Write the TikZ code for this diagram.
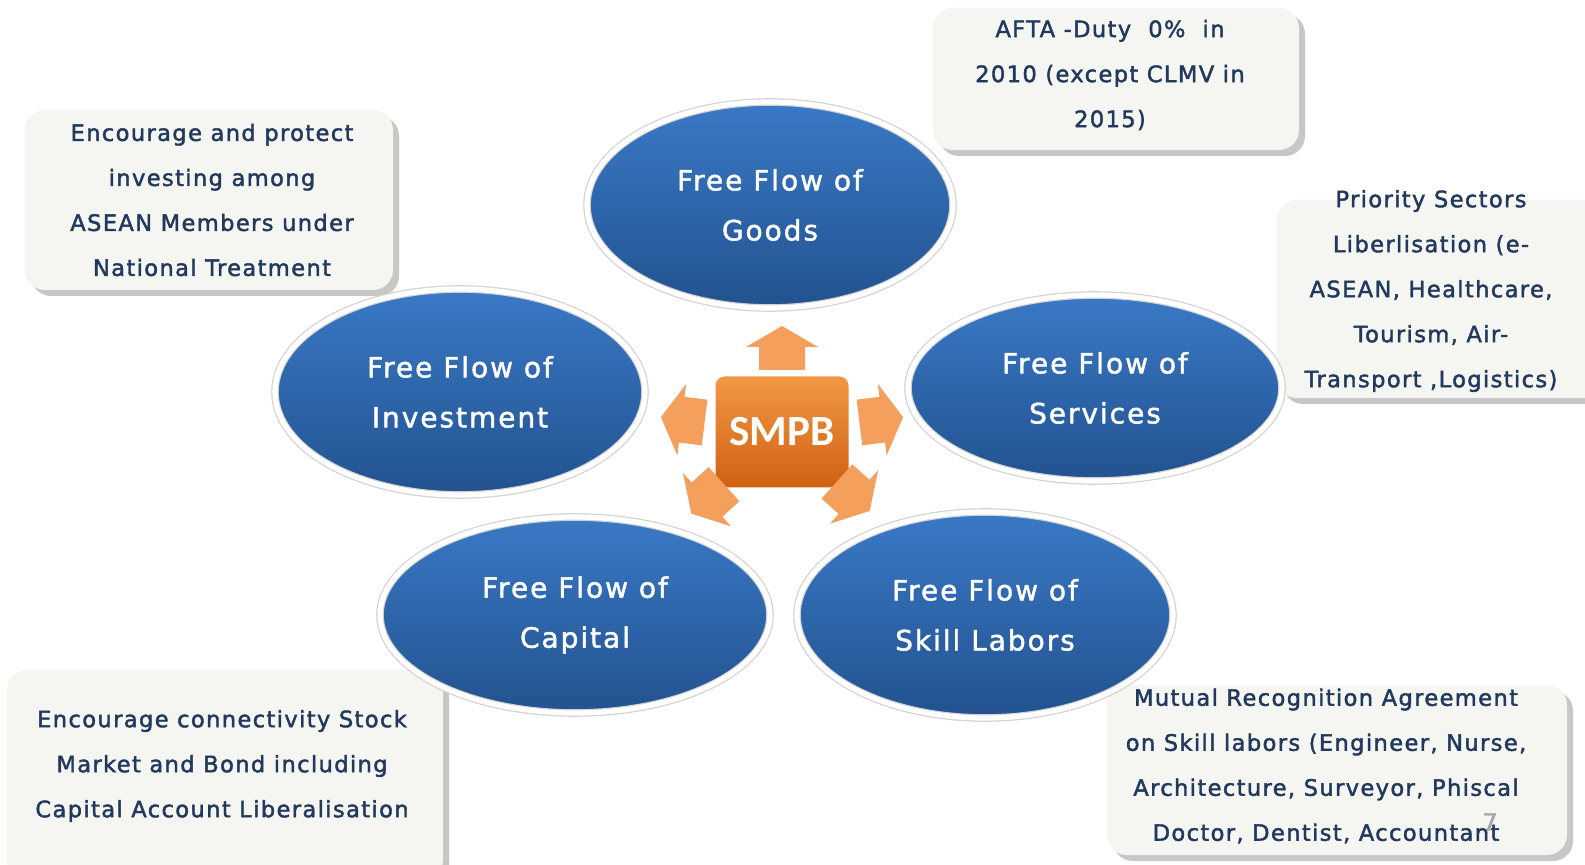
\documentclass[tikz,border=0pt]{standalone}
\usepackage{fontspec}
\usepackage{tikz}
\usetikzlibrary{
        positioning,
        shapes.geometric,
        shadows
    }
\newfontfamily\flowfont[LetterSpace=7,FakeBold=1.6]{DejaVu Sans}
\newfontfamily\notefont[LetterSpace=6,FakeBold=1.8]{DejaVu Sans}
\newfontfamily\hubfont{Carlito}
\definecolor{flowtop}{HTML}{3A79C6}
\definecolor{flowbot}{HTML}{22528F}
\definecolor{notefill}{HTML}{F5F5F2}
\definecolor{notetxt}{HTML}{22395E}
\definecolor{hubtop}{HTML}{F39A45}
\definecolor{hubbot}{HTML}{CF5F10}
\definecolor{hubarrow}{HTML}{F4A05C}
\tikzset{
    flow/.style={ellipse, draw=gray!35, line width=0.6pt, double=white,
        double distance=2.6pt, top color=flowtop, bottom color=flowbot,
        text=white, align=center, inner sep=0pt,
        font=\flowfont\fontsize{14}{25}\selectfont},
    note/.style={rounded corners=10pt, fill=notefill, inner sep=0pt,
        drop shadow={shadow xshift=3pt, shadow yshift=-3pt, fill=gray!80, opacity=0.55}},
    notetext/.style={text=notetxt, align=center, inner sep=0pt,
        font=\notefont\fontsize{11.3}{22.5}\selectfont},
    hub/.style={rounded corners=6pt, draw=white, line width=3.5pt,
        top color=hubtop, bottom color=hubbot, text=white,
        minimum width=70pt, minimum height=59pt,
        font=\hubfont\bfseries\fontsize{21.5}{24}\selectfont,
        drop shadow={shadow xshift=0pt, shadow yshift=-1pt, fill=gray!60, opacity=0.5}},
    hubarrow/.style={fill=hubarrow}
}

\begin{document}
\begin{tikzpicture}[x=0.5pt,y=-0.5pt]
    \clip (0,0) rectangle (1585,865);
    \fill[white] (0,0) rectangle (1585,865);

    % notes behind the flows
    \node[note, minimum width=184pt, minimum height=90pt] (invnote) at (209,200) {};
    \node[note, minimum width=183pt, minimum height=71pt] (goodsnote) at (1116,79) {};
    \node[note, minimum width=163pt, minimum height=99pt] (servnote) at (1440,299) {};
    \node[note, minimum width=218pt, minimum height=105pt] (capnote) at (225,775) {};
    \node[note, minimum width=230pt, minimum height=85pt] (skillnote) at (1337,770) {};

    \node[notetext] (invtext) at (212,200)
        {Encourage and protect\\investing among\\ASEAN Members under\\National Treatment};
    \node[notetext] (goodstext) at (1110,75)
        {AFTA -Duty\ \ 0\%\ \ in\\2010 (except CLMV in\\2015)};
    \node[notetext] (servtext) at (1431,291)
        {Priority Sectors\\Liberlisation (e-\\ASEAN, Healthcare,\\Tourism, Air-\\Transport ,Logistics)};
    \node[notetext] (captext) at (222,766)
        {Encourage connectivity Stock\\Market and Bond including\\Capital Account Liberalisation};
    \node[notetext] (skilltext) at (1326,766)
        {Mutual Recognition Agreement\\on Skill labors (Engineer, Nurse,\\Architecture, Surveyor, Phiscal\\Doctor, Dentist, Accountant};

    % the five flows
    \node[flow, minimum width=183pt, minimum height=103pt] (goods) at (770,205) {Free Flow of\\Goods};
    \node[flow, minimum width=185pt, minimum height=103pt] (invest) at (460,392) {Free Flow of\\Investment};
    \node[flow, minimum width=187pt, minimum height=93pt] (serv) at (1095,388) {Free Flow of\\Services};
    \node[flow, minimum width=195pt, minimum height=98pt] (capital) at (575,615) {Free Flow of\\Capital};
    \node[flow, minimum width=188pt, minimum height=103pt] (skill) at (985,615) {Free Flow of\\Skill Labors};

    % hub and its arrows
    \node[hub] (smpb) at (782,432) {SMPB};
    \foreach \ang/\dist in {90/42, 7/50, 173/50, 222/50, 318/48}
        \fill[hubarrow, shift={(smpb.center)}, rotate=\ang, xshift=\dist pt]
            (-11pt,-11.5pt) -- (0.5pt,-11.5pt) -- (0.5pt,-18pt) -- (11pt,0pt)
            -- (0.5pt,18pt) -- (0.5pt,11.5pt) -- (-11pt,11.5pt) -- cycle;

    \node[text=gray!70, font=\flowfont\fontsize{12}{12}\selectfont] (pagenum) at (1490,822) {7};
\end{tikzpicture}
\end{document}
